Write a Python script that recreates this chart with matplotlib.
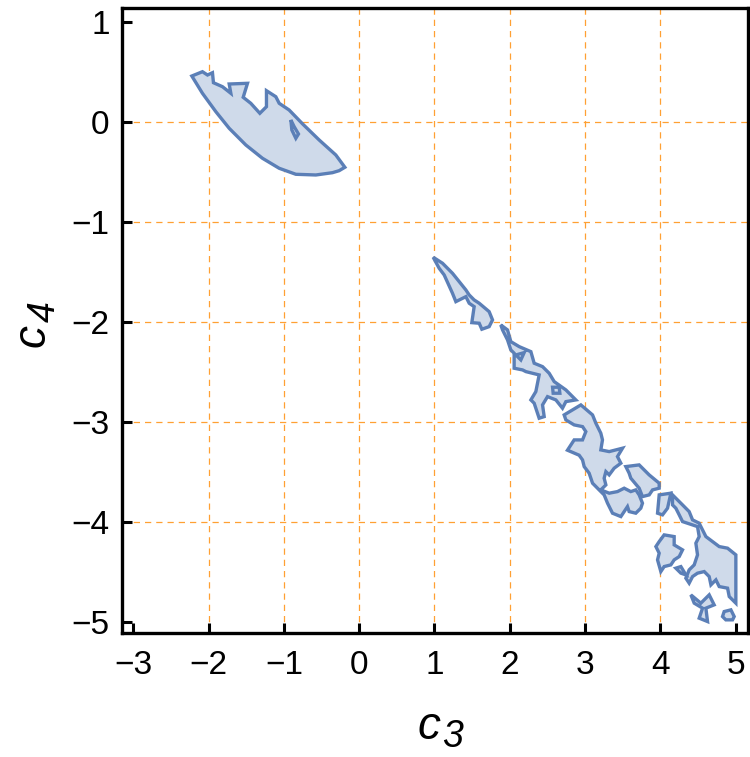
import matplotlib
matplotlib.use("Agg")
import matplotlib.pyplot as plt
from matplotlib.path import Path
from matplotlib.patches import PathPatch

plt.rcParams['font.family'] = ['Liberation Sans', 'DejaVu Sans']

# ---- data: region boundaries (c3, c4) ----
blob_upper = [(-2.222, 0.46), (-2.081, 0.503), (-2.014, 0.47), (-1.948, 0.493), (-1.935, 0.393),
              (-1.815, 0.353), (-1.704, 0.287), (-1.726, 0.38), (-1.483, 0.387), (-1.54, 0.247),
              (-1.439, 0.187), (-1.319, 0.087), (-1.231, 0.153), (-1.231, 0.313), (-1.107, 0.253),
              (-1.062, 0.187), (-0.930, 0.12), (-0.75, -0.02), (-0.531, -0.18), (-0.310, -0.33),
              (-0.190, -0.453), (-0.266, -0.487), (-0.354, -0.507), (-0.575, -0.53), (-0.841, -0.523),
              (-1.062, -0.463), (-1.284, -0.363), (-1.505, -0.23), (-1.726, -0.063), (-1.903, 0.103),
              (-2.081, 0.287)]
blob_upper_hole = [(-0.907, 0.02), (-0.863, -0.047), (-0.806, -0.12), (-0.841, -0.163), (-0.894, -0.08)]

strip_1 = [(0.983, -1.353), (1.107, -1.413), (1.239, -1.513), (1.417, -1.68), (1.461, -1.73),
           (1.527, -1.78), (1.594, -1.813), (1.726, -1.897), (1.771, -1.98), (1.726, -2.047),
           (1.629, -2.073), (1.594, -2.013), (1.496, -2.007), (1.527, -1.847), (1.461, -1.813),
           (1.417, -1.747), (1.284, -1.797), (1.239, -1.713), (1.129, -1.53), (1.062, -1.463)]

strip_2 = [(1.881, -2.03), (1.970, -2.08), (2.014, -2.197), (2.125, -2.247), (2.280, -2.297),
           (2.324, -2.413), (2.435, -2.447), (2.523, -2.513), (2.590, -2.597), (2.745, -2.68),
           (2.877, -2.78), (2.745, -2.797), (2.700, -2.863), (2.612, -2.78), (2.501, -2.747),
           (2.435, -2.83), (2.457, -2.947), (2.390, -2.963), (2.324, -2.813), (2.280, -2.78),
           (2.346, -2.697), (2.390, -2.53), (2.214, -2.497), (2.170, -2.48), (2.058, -2.463),
           (2.058, -2.313), (2.014, -2.28), (1.970, -2.18), (1.904, -2.08)]
strip_2_holes = [[(2.568, -2.653), (2.656, -2.653), (2.665, -2.713), (2.576, -2.713)],
                 [(2.081, -2.33), (2.191, -2.307), (2.147, -2.38)]]

strip_3 = [(2.722, -2.93), (2.944, -2.83), (3.099, -2.93), (3.143, -3.013), (3.209, -3.113),
           (3.231, -3.18), (3.209, -3.28), (3.320, -3.297), (3.497, -3.263), (3.430, -3.347),
           (3.475, -3.413), (3.386, -3.463), (3.320, -3.53), (3.276, -3.497), (3.253, -3.563),
           (3.276, -3.63), (3.209, -3.68), (3.320, -3.713), (3.430, -3.697), (3.519, -3.663),
           (3.607, -3.697), (3.673, -3.68), (3.718, -3.73), (3.762, -3.813), (3.740, -3.863),
           (3.673, -3.913), (3.585, -3.897), (3.563, -3.847), (3.475, -3.947), (3.364, -3.913),
           (3.298, -3.813), (3.253, -3.73), (3.187, -3.68), (3.099, -3.613), (3.054, -3.513),
           (2.988, -3.447), (2.966, -3.38), (2.921, -3.333), (2.766, -3.283), (2.855, -3.18),
           (2.966, -3.18), (3.010, -3.097), (2.966, -3.047), (2.855, -3.03), (2.745, -2.98)]

strip_4 = [(3.541, -3.447), (3.718, -3.43), (3.851, -3.53), (3.984, -3.613), (3.984, -3.663),
           (3.896, -3.68), (3.851, -3.73), (3.762, -3.747), (3.718, -3.663), (3.607, -3.563),
           (3.585, -3.513)]

strip_5 = [(3.984, -3.73), (4.139, -3.713), (4.095, -3.863), (4.028, -3.93), (3.962, -3.913)]

strip_6 = [(4.161, -3.73), (4.294, -3.83), (4.382, -3.897), (4.427, -3.98), (4.515, -4.013),
           (4.604, -4.147), (4.781, -4.247), (4.892, -4.263), (5.002, -4.33), (5.002, -4.813),
           (4.914, -4.747), (4.892, -4.663), (4.781, -4.647), (4.737, -4.58), (4.671, -4.63),
           (4.648, -4.547), (4.582, -4.497), (4.493, -4.513), (4.427, -4.547), (4.382, -4.613),
           (4.338, -4.563), (4.382, -4.48), (4.449, -4.43), (4.493, -4.33), (4.471, -4.213),
           (4.515, -4.147), (4.493, -4.047), (4.294, -3.997), (4.250, -3.93), (4.205, -3.863),
           (4.161, -3.83)]

island_1 = [(3.984, -4.197), (4.050, -4.13), (4.183, -4.147), (4.183, -4.23), (4.294, -4.28),
            (4.250, -4.347), (4.183, -4.38), (4.139, -4.43), (4.050, -4.447), (4.006, -4.497),
            (3.962, -4.38), (3.984, -4.313), (3.940, -4.247)]
island_2 = [(4.205, -4.463), (4.272, -4.447), (4.338, -4.53), (4.272, -4.513)]
island_3 = [(4.405, -4.73), (4.537, -4.813), (4.648, -4.73), (4.714, -4.83), (4.604, -4.863),
            (4.626, -4.997), (4.515, -4.963), (4.560, -4.863), (4.449, -4.813)]
island_4 = [(4.847, -4.897), (4.936, -4.88), (4.980, -4.947), (4.958, -4.98), (4.869, -4.98),
            (4.825, -4.947)]

x_ticks = [-3, -2, -1, 0, 1, 2, 3, 4, 5]
y_ticks = [-5, -4, -3, -2, -1, 0, 1]
x_grid = [-2, -1, 0, 1, 2, 3, 4]
y_grid = [-4, -3, -2, -1, 0]

FILL = '#cfdaea'
EDGE = '#5b7fb7'

fig = plt.figure(figsize=(7.5, 7.57), dpi=100)
ax = fig.add_axes([0.163, 0.164, 0.834, 0.825])
ax.set_xlim(-3.146, 5.16)
ax.set_ylim(-5.11, 1.137)

for gx in x_grid:
    ax.axvline(gx, color='#ffa033', lw=0.9, dashes=(5, 4), zorder=1)
for gy in y_grid:
    ax.axhline(gy, color='#ffa033', lw=0.9, dashes=(5, 4), zorder=1)


def add_region(outer, holes=()):
    verts = []
    codes = []
    for ring in [outer] + list(holes):
        verts.extend(ring + [ring[0]])
        codes.extend([Path.MOVETO] + [Path.LINETO] * (len(ring) - 1) + [Path.CLOSEPOLY])
    patch = PathPatch(Path(verts, codes), facecolor=FILL, edgecolor=EDGE, lw=2.4,
                      joinstyle='miter', zorder=2)
    ax.add_patch(patch)


add_region(blob_upper, [blob_upper_hole])
add_region(strip_1)
add_region(strip_2, strip_2_holes)
add_region(strip_3)
add_region(strip_4)
add_region(strip_5)
add_region(strip_6)
for isl in (island_1, island_2, island_3, island_4):
    add_region(isl)

ax.set_xticks(x_ticks)
ax.set_yticks(y_ticks)
ax.tick_params(axis='both', direction='in', length=7, width=2.2, labelsize=24,
               top=False, right=False, pad=9)
ax.tick_params(axis='x', pad=12)
for sp in ax.spines.values():
    sp.set_linewidth(2.4)

# axis labels: italic c with italic subscript
lab_kw = dict(xycoords='axes fraction', fontstyle='italic', annotation_clip=False)
ax.annotate('c', xy=(0.508, -0.170), ha='right', va='baseline', fontsize=33, **lab_kw)
ax.annotate('3', xy=(0.511, -0.183), ha='left', va='baseline', fontsize=27, **lab_kw)
ax.annotate('c', xy=(-0.124, 0.495), ha='right', va='baseline', fontsize=33,
            rotation=90, rotation_mode='anchor', **lab_kw)
ax.annotate('4', xy=(-0.108, 0.498), ha='left', va='baseline', fontsize=27,
            rotation=90, rotation_mode='anchor', **lab_kw)

fig.savefig('out.png', dpi=100)
